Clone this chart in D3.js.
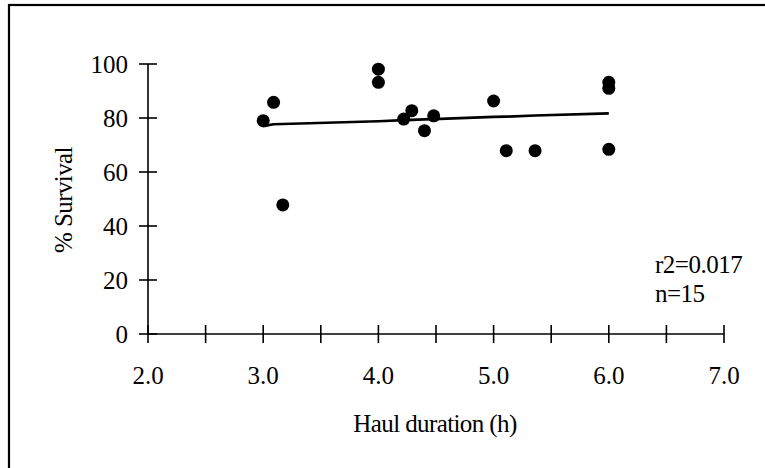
<!DOCTYPE html>
<html>
<head>
<meta charset="utf-8">
<script src="https://cdn.jsdelivr.net/npm/d3@7/dist/d3.min.js"></script>
<style>
  html, body { margin: 0; padding: 0; background: #fff; }
  svg { display: block; }
  text { font-family: "Liberation Serif", "Times New Roman", serif; fill: #000; }
</style>
</head>
<body>
<svg id="chart" width="765" height="468"></svg>
<script>
// Haul duration (h) and % survival for each haul
const haulHours = [3.0, 3.09, 3.17, 4.0, 4.0, 4.22, 4.29, 4.40, 4.48, 5.0, 5.11, 5.36, 6.0, 6.0, 6.0];
const survivalPct = [79.0, 85.8, 47.8, 98.1, 93.2, 79.6, 82.7, 75.3, 80.8, 86.3, 67.9, 67.9, 93.2, 91.0, 68.4];

// Fitted trend values at the observed durations
const fitHours = [3.0, 3.09, 3.17, 4.0, 4.22, 4.29, 4.40, 4.48, 5.0, 5.11, 5.36, 6.0];
const fitPct = [77.0, 77.7, 77.8, 78.8, 79.2, 79.3, 79.5, 79.6, 80.4, 80.5, 80.9, 81.7];

const xTicks = [2.0, 2.5, 3.0, 3.5, 4.0, 4.5, 5.0, 5.5, 6.0, 6.5, 7.0];
const xLabels = [2.0, 3.0, 4.0, 5.0, 6.0, 7.0];
const yTicks = [0, 20, 40, 60, 80, 100];
const statsLines = ["r2=0.017", "n=15"];

const svg = d3.select("#chart");

// outer frame
svg.append("rect")
  .attr("x", 9).attr("y", 5)
  .attr("width", 780).attr("height", 480)
  .attr("fill", "none").attr("stroke", "#000").attr("stroke-width", 2.2);

const x = d3.scaleLinear().domain([2, 7]).range([148, 724]);
const y = d3.scaleLinear().domain([0, 100]).range([334, 64]);

// y axis line and crossing ticks
svg.append("line")
  .attr("x1", x(2)).attr("x2", x(2))
  .attr("y1", y(0)).attr("y2", y(100))
  .attr("stroke", "#000").attr("stroke-width", 1.6);
svg.selectAll(".ytick").data(yTicks).enter().append("line")
  .attr("x1", x(2) - 9).attr("x2", x(2) + 9)
  .attr("y1", d => y(d)).attr("y2", d => y(d))
  .attr("stroke", "#000").attr("stroke-width", 1.6);
svg.selectAll(".ylab").data(yTicks).enter().append("text")
  .attr("x", 128).attr("y", d => y(d) + 8.5)
  .attr("text-anchor", "end")
  .style("font-size", "25px")
  .text(d => d);

// x axis line and crossing ticks
svg.append("line")
  .attr("x1", x(2)).attr("x2", x(7))
  .attr("y1", y(0)).attr("y2", y(0))
  .attr("stroke", "#000").attr("stroke-width", 1.6);
svg.selectAll(".xtick").data(xTicks).enter().append("line")
  .attr("x1", d => x(d)).attr("x2", d => x(d))
  .attr("y1", y(0) - 9).attr("y2", y(0) + 9)
  .attr("stroke", "#000").attr("stroke-width", 1.6);
svg.selectAll(".xlab").data(xLabels).enter().append("text")
  .attr("x", d => x(d)).attr("y", 384)
  .attr("text-anchor", "middle")
  .style("font-size", "25px")
  .text(d => d.toFixed(1));

// axis titles
svg.append("text")
  .attr("x", 435).attr("y", 432)
  .attr("text-anchor", "middle")
  .style("font-size", "25px")
  .style("letter-spacing", "-0.6px")
  .text("Haul duration (h)");
svg.append("text")
  .attr("transform", "translate(72,200) rotate(-90)")
  .attr("text-anchor", "middle")
  .style("font-size", "25px")
  .style("letter-spacing", "-0.6px")
  .text("% Survival");

// trend line
const line = d3.line().x(d => x(d[0])).y(d => y(d[1]));
svg.append("path")
  .datum(d3.zip(fitHours, fitPct))
  .attr("d", line)
  .attr("fill", "none").attr("stroke", "#000")
  .attr("stroke-width", 2.6).attr("stroke-linejoin", "round");

// observations
svg.selectAll(".pt").data(d3.zip(haulHours, survivalPct)).enter().append("circle")
  .attr("cx", d => x(d[0])).attr("cy", d => y(d[1]))
  .attr("r", 6.5).attr("fill", "#000");

// fit statistics
svg.selectAll(".stat").data(statsLines).enter().append("text")
  .attr("x", 655).attr("y", (d, i) => 273 + i * 29)
  .style("font-size", "25px")
  .style("letter-spacing", "-0.5px")
  .text(d => d);
</script>
</body>
</html>
